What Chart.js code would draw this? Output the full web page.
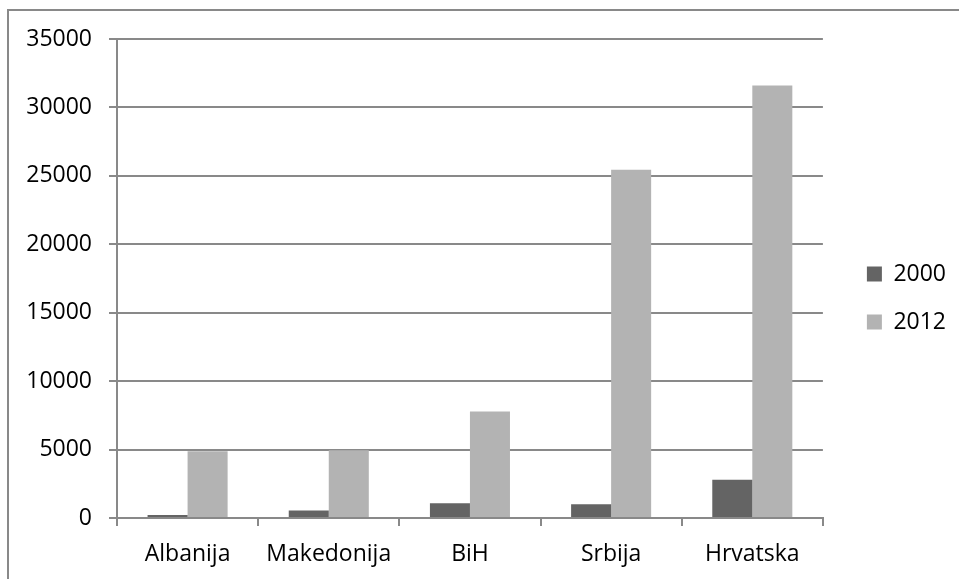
<!DOCTYPE html>
<html>
<head>
<meta charset="utf-8">
<script src="https://cdn.jsdelivr.net/npm/chart.js@4/dist/chart.umd.min.js"></script>
<style>
  html, body { margin: 0; padding: 0; background: #fff; }
  #wrap { position: relative; width: 959px; height: 579px; }
</style>
</head>
<body>
<div id="wrap"><canvas id="chart" width="959" height="579"></canvas></div>
<script>
// Categories and values
const countries = ['Albanija', 'Makedonija', 'BiH', 'Srbija', 'Hrvatska'];
const years = ['2000', '2012'];
const values2000 = [220, 540, 1070, 1000, 2800];
const values2012 = [4880, 4950, 7780, 25440, 31610];
const yTicks = [0, 5000, 10000, 15000, 20000, 25000, 30000, 35000];

const gridGray = '#898989';
const fontFamily = '"Open Sans", "Noto Sans", sans-serif';

// outer frame of the chart object (runs off the right and bottom edges)
const framePlugin = {
  id: 'frame',
  beforeDraw(chart) {
    const ctx = chart.ctx;
    ctx.save();
    ctx.fillStyle = '#fff';
    ctx.fillRect(0, 0, chart.width, chart.height);
    ctx.strokeStyle = gridGray;
    ctx.lineWidth = 2;
    ctx.beginPath();
    ctx.moveTo(8, chart.height + 5);
    ctx.lineTo(8, 10);
    ctx.lineTo(chart.width + 5, 10);
    ctx.stroke();
    ctx.restore();
  }
};

// legend sits a little above the middle of the plot in the original
const legendNudge = {
  id: 'legendNudge',
  afterLayout(chart) {
    if (chart.legend) {
      chart.legend.top -= 11;
      chart.legend.bottom -= 11;
    }
  }
};

new Chart(document.getElementById('chart'), {
  type: 'bar',
  data: {
    labels: countries,
    datasets: [
      {
        label: years[0],
        data: values2000,
        backgroundColor: '#646464',
        barPercentage: 1,
        categoryPercentage: 0.567
      },
      {
        label: years[1],
        data: values2012,
        backgroundColor: '#b3b3b3',
        barPercentage: 1,
        categoryPercentage: 0.567
      }
    ]
  },
  options: {
    responsive: false,
    animation: false,
    layout: {
      padding: { top: 39, right: 3, bottom: 0, left: 0 }
    },
    scales: {
      x: {
        grid: {
          display: true,
          offset: true,
          drawOnChartArea: false,
          drawTicks: true,
          tickLength: 8,
          color: gridGray,
          lineWidth: 2
        },
        border: { display: true, color: gridGray, width: 2 },
        ticks: {
          color: '#000',
          padding: 15,
          font: { family: fontFamily, size: 23 }
        },
        afterFit(scale) { scale.height = 61; }
      },
      y: {
        min: 0,
        max: 35000,
        grid: {
          color: gridGray,
          lineWidth: 2,
          tickLength: 8
        },
        border: { display: true, color: gridGray, width: 2 },
        afterBuildTicks(scale) {
          scale.ticks = yTicks.map(v => ({ value: v }));
        },
        ticks: {
          color: '#000',
          padding: 17,
          font: { family: fontFamily, size: 23 },
          callback: v => String(v)
        },
        afterFit(scale) { scale.width = 117; }
      },
      // empty spacer between the plot and the legend
      gap: {
        type: 'linear',
        position: 'right',
        display: true,
        grid: { display: false },
        border: { display: false },
        ticks: { display: false },
        afterFit(scale) { scale.width = 19; }
      }
    },
    plugins: {
      legend: {
        position: 'right',
        align: 'center',
        labels: {
          boxWidth: 15,
          boxHeight: 15,
          padding: 25,
          color: '#000',
          font: { family: fontFamily, size: 23 }
        }
      },
      tooltip: { enabled: false }
    }
  },
  plugins: [framePlugin, legendNudge]
});
</script>
</body>
</html>
